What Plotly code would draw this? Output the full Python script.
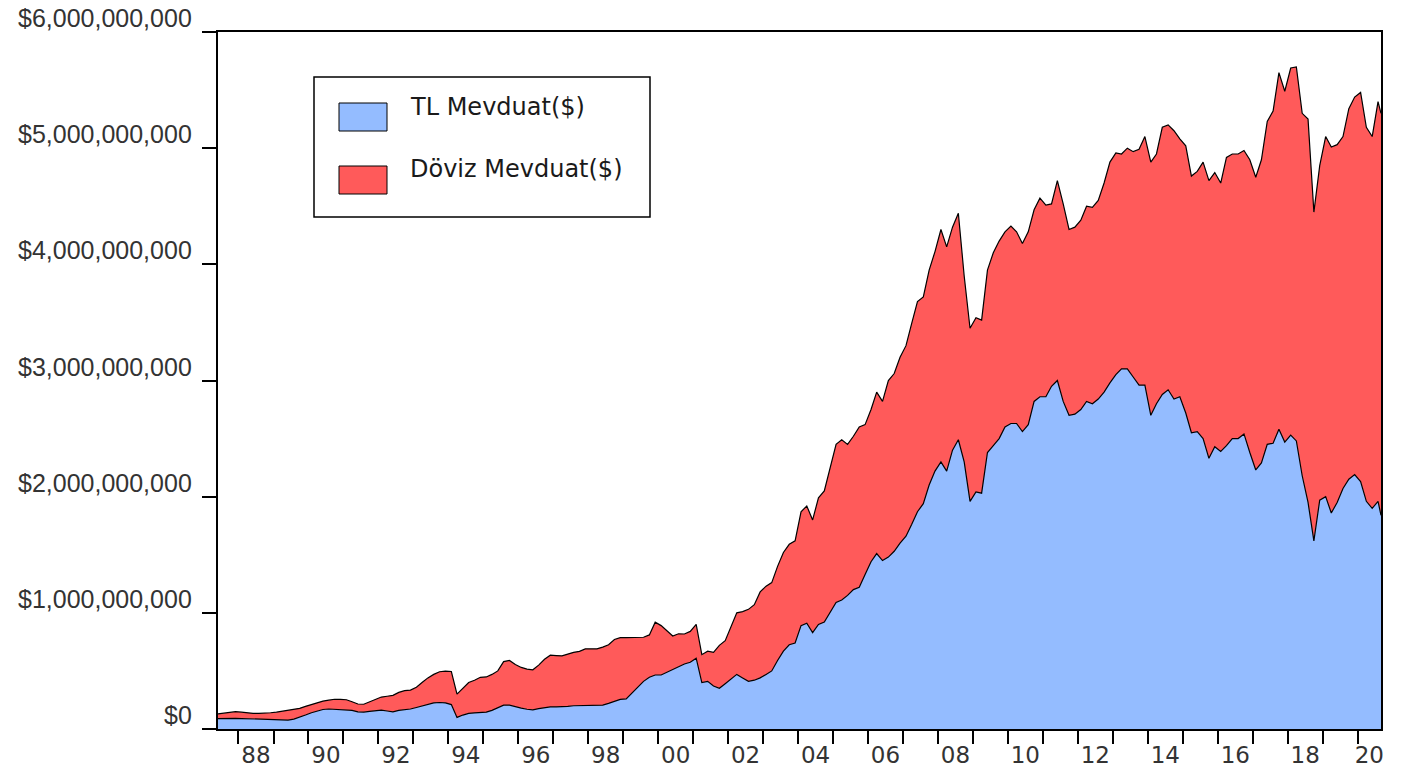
import pandas as pd
import plotly.graph_objects as go

# iki ayda bir gozlem (Haziran 1987 - Eylul 2020), milyar $
tarihler = list(pd.date_range("1987-06-01", "2020-08-01", freq="2MS").strftime("%Y-%m-%d")) + ["2020-09-01"]

tl_mevduat = [
    0.09, 0.092, 0.092, 0.092,
    0.09, 0.088, 0.085, 0.082, 0.08, 0.078,
    0.077, 0.077, 0.077, 0.085, 0.10, 0.12,
    0.14, 0.155, 0.168, 0.172, 0.17, 0.17,
    0.168, 0.16, 0.148, 0.146, 0.152, 0.158,
    0.162, 0.155, 0.148, 0.16, 0.165, 0.172,
    0.185, 0.20, 0.215, 0.225, 0.228, 0.225,
    0.21, 0.10, 0.12, 0.135, 0.138, 0.14,
    0.145, 0.16, 0.185, 0.205, 0.205, 0.19,
    0.18, 0.17, 0.165, 0.175, 0.185, 0.19,
    0.19, 0.19, 0.195, 0.20, 0.20, 0.20,
    0.20, 0.20, 0.205, 0.22, 0.24, 0.255,
    0.26, 0.31, 0.36, 0.41, 0.445, 0.465,
    0.465, 0.49, 0.515, 0.54, 0.56, 0.575,
    0.61, 0.40, 0.41, 0.37, 0.35, 0.39,
    0.43, 0.47, 0.44, 0.41, 0.42, 0.44,
    0.47, 0.50, 0.59, 0.67, 0.725, 0.74,
    0.89, 0.91, 0.83, 0.90, 0.92, 1.00,
    1.09, 1.11, 1.15, 1.20, 1.22, 1.33,
    1.44, 1.51, 1.45, 1.48, 1.53, 1.60,
    1.66, 1.76, 1.87, 1.94, 2.10, 2.22,
    2.30, 2.22, 2.40, 2.49, 2.30, 1.96,
    2.04, 2.03, 2.38, 2.44, 2.50, 2.60,
    2.63, 2.63, 2.56, 2.62, 2.82, 2.86,
    2.86, 2.95, 3.00, 2.82, 2.70, 2.71,
    2.75, 2.82, 2.80, 2.84, 2.90, 2.98,
    3.05, 3.10, 3.10, 3.03, 2.96, 2.96,
    2.70, 2.80, 2.88, 2.92, 2.84, 2.86,
    2.72, 2.55, 2.56, 2.50, 2.33, 2.43,
    2.39, 2.44, 2.50, 2.50, 2.54, 2.38,
    2.23, 2.29, 2.45, 2.46, 2.58, 2.47,
    2.53, 2.48, 2.18, 1.95, 1.62, 1.97,
    2.00, 1.86, 1.95, 2.07, 2.15, 2.19,
    2.13, 1.96, 1.90, 1.96, 1.84,
]

doviz_mevduat = [
    0.04, 0.043, 0.048, 0.057,
    0.055, 0.05, 0.05, 0.053, 0.055, 0.062,
    0.068, 0.075, 0.083, 0.085, 0.078, 0.075,
    0.07, 0.07, 0.072, 0.076, 0.086, 0.085,
    0.084, 0.075, 0.067, 0.067, 0.083, 0.10,
    0.113, 0.127, 0.142, 0.155, 0.165, 0.163,
    0.175, 0.20, 0.225, 0.245, 0.265, 0.274,
    0.285, 0.20, 0.23, 0.265, 0.282, 0.305,
    0.303, 0.31, 0.315, 0.375, 0.385, 0.365,
    0.35, 0.345, 0.345, 0.375, 0.415, 0.445,
    0.442, 0.44, 0.45, 0.46, 0.468, 0.49,
    0.49, 0.49, 0.50, 0.505, 0.53, 0.531,
    0.526, 0.476, 0.426, 0.38, 0.365, 0.455,
    0.425, 0.355, 0.285, 0.28, 0.258, 0.265,
    0.29, 0.24, 0.26, 0.29, 0.37, 0.37,
    0.45, 0.53, 0.57, 0.62, 0.65, 0.74,
    0.76, 0.76, 0.81, 0.85, 0.865, 0.88,
    0.98, 1.01, 0.97, 1.09, 1.13, 1.25,
    1.36, 1.38, 1.30, 1.32, 1.38, 1.29,
    1.31, 1.39, 1.37, 1.52, 1.53, 1.60,
    1.64, 1.73, 1.81, 1.78, 1.85, 1.89,
    2.00, 1.93, 1.92, 1.95, 1.60, 1.49,
    1.50, 1.49, 1.57, 1.66, 1.70, 1.68,
    1.70, 1.65, 1.62, 1.66, 1.65, 1.71,
    1.65, 1.57, 1.72, 1.70, 1.60, 1.61,
    1.63, 1.68, 1.69, 1.71, 1.80, 1.90,
    1.91, 1.85, 1.90, 1.94, 2.03, 2.14,
    2.18, 2.15, 2.30, 2.28, 2.31, 2.22,
    2.30, 2.21, 2.24, 2.38, 2.39, 2.36,
    2.31, 2.48, 2.45, 2.45, 2.44, 2.52,
    2.52, 2.61, 2.78, 2.86, 3.07, 3.02,
    3.16, 3.22, 3.12, 3.30, 2.83, 2.88,
    3.10, 3.15, 3.08, 3.03, 3.19, 3.25,
    3.35, 3.22, 3.20, 3.44, 3.46,
]

yillar = list(range(1988, 2021))
etiket_yillari = yillar[::2]
y_tikler = [0, 1e9, 2e9, 3e9, 4e9, 5e9, 6e9]

mavi = "rgb(148,188,255)"
kirmizi = "rgb(255,90,90)"

fig = go.Figure()
fig.add_trace(go.Scatter(
    x=tarihler, y=[v * 1e9 for v in tl_mevduat], name="TL Mevduat($)",
    stackgroup="one", mode="lines", fillcolor=mavi,
    line=dict(color="black", width=1.2), showlegend=False))
fig.add_trace(go.Scatter(
    x=tarihler, y=[v * 1e9 for v in doviz_mevduat], name="Döviz Mevduat($)",
    stackgroup="one", mode="lines", fillcolor=kirmizi,
    line=dict(color="black", width=1.2), showlegend=False))

# etiketler yil araliginin ortasinda, son yil grafigin sonuna kadar
x_son = pd.Timestamp(tarihler[-1])
etiket_yerleri = []
for y in etiket_yillari:
    bas = pd.Timestamp(f"{y}-01-01")
    son = min(pd.Timestamp(f"{y + 1}-01-01"), x_son)
    etiket_yerleri.append((bas + (son - bas) / 2).strftime("%Y-%m-%d"))

fig.update_xaxes(
    type="date", range=[tarihler[0], tarihler[-1]], automargin=False,
    tickmode="array", tickvals=etiket_yerleri,
    ticktext=[str(y)[2:] for y in etiket_yillari],
    ticks="", ticklabelstandoff=4, showgrid=False, zeroline=False,
    showline=True, linecolor="black", linewidth=2, mirror=True,
    tickfont=dict(family="DejaVu Sans", size=23, color="#333"),
    minor=dict(tickmode="array", tickvals=[f"{y}-01-01" for y in yillar],
               ticks="outside", ticklen=13, tickwidth=1.5, tickcolor="black",
               showgrid=False),
)
fig.update_yaxes(
    range=[0, 6e9], automargin=False, tickmode="array", tickvals=y_tikler,
    ticks="outside", ticklen=14, tickwidth=1.5, tickcolor="black",
    showticklabels=False, showgrid=False, zeroline=False,
    showline=True, linecolor="black", linewidth=2, mirror=True,
)

# piksel -> paper koordinati
def px_x(p):
    return (p - 218) / 1163

def px_y(p):
    return (729 - p) / 697

# y etiketleri tikin biraz ustunde
for v in y_tikler:
    fig.add_annotation(text=f"${v:,.0f}", xref="paper", yref="y", x=px_x(194), y=v,
                       xanchor="right", yanchor="middle", yshift=14, showarrow=False,
                       font=dict(family="Liberation Sans, Arial", size=25, color="#333"))

lejant = [("TL Mevduat($)", mavi, 103, 131, 107), ("Döviz Mevduat($)", kirmizi, 166, 194, 169)]
fig.add_shape(type="rect", xref="paper", yref="paper",
              x0=px_x(314), x1=px_x(650), y0=px_y(217), y1=px_y(77),
              line=dict(color="black", width=1.5), fillcolor="white", layer="above")
for ad, renk, ust, alt, orta in lejant:
    fig.add_shape(type="rect", xref="paper", yref="paper",
                  x0=px_x(339), x1=px_x(387), y0=px_y(alt), y1=px_y(ust),
                  line=dict(color="black", width=1), fillcolor=renk, layer="above")
    fig.add_annotation(text=ad, xref="paper", yref="paper", x=px_x(408), y=px_y(orta),
                       xanchor="left", yanchor="middle", showarrow=False,
                       font=dict(family="DejaVu Sans", size=24, color="#1a1a1a"))

fig.update_layout(
    width=1415, height=773,
    margin=dict(l=218, r=34, t=32, b=44),
    plot_bgcolor="white", paper_bgcolor="white",
)

# sayfanin varsayilan 8px kenar boslugunu kaldir, arac cubugunu gizle
fig.write_html("out.html", config={"displayModeBar": False},
               post_script="document.body.style.margin = '0';")
